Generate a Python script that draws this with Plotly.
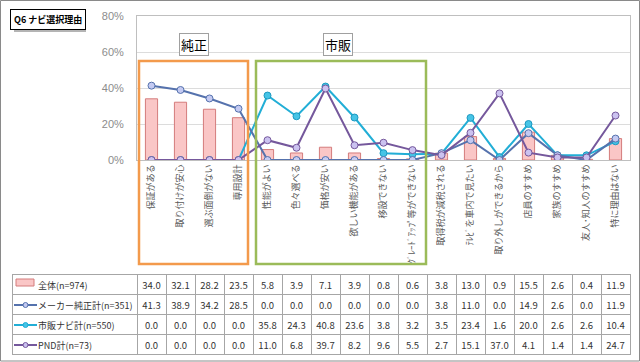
import plotly.graph_objects as go

categories = ["保証がある", "取り付けが安心", "選ぶ面倒がない", "専用設計", "性能がよい",
              "色々選べる", "価格が安い", "欲しい機能がある", "移設できない",
              "ｸﾞﾚｰﾄﾞｱｯﾌﾟ等ができない", "取得税が減税される", "ﾃﾚﾋﾞを車内で見たい",
              "取り外しができるから", "店員のすすめ", "家族のすすめ", "友人･知人のすすめ",
              "特に理由はない"]
series_names = ["全体(n=974)", "メーカー純正計(n=351)", "市販ナビ計(n=550)", "PND計(n=73)"]
total = [34.0, 32.1, 28.2, 23.5, 5.8, 3.9, 7.1, 3.9, 0.8, 0.6, 3.8, 13.0, 0.9, 15.5, 2.6, 0.4, 11.9]
maker = [41.3, 38.9, 34.2, 28.5, 0.0, 0.0, 0.0, 0.0, 0.0, 0.0, 3.8, 11.0, 0.0, 14.9, 2.6, 0.0, 11.9]
retail = [0.0, 0.0, 0.0, 0.0, 35.8, 24.3, 40.8, 23.6, 3.8, 3.2, 3.5, 23.4, 1.6, 20.0, 2.6, 2.6, 10.4]
pnd = [0.0, 0.0, 0.0, 0.0, 11.0, 6.8, 39.7, 8.2, 9.6, 5.5, 2.7, 15.1, 37.0, 4.1, 1.4, 1.4, 24.7]
y_ticks = [0, 20, 40, 60, 80]
y_tick_text = ["0%", "20%", "40%", "60%", "80%"]

W, H = 640, 362
def px(x): return x / W
def py(y): return (H - y) / H

JP = "Noto Sans CJK JP"
C_MAKER = "#5572ad"
C_RETAIL = "#22aed6"
C_PND = "#75589c"

fig = go.Figure()
fig.add_trace(go.Bar(x=categories, y=total, name=series_names[0], width=0.42,
                     marker=dict(color="#fac6c6", line=dict(color="#d47c7c", width=1))))
fig.add_trace(go.Scatter(x=categories, y=retail, name=series_names[2], mode="lines+markers",
                         line=dict(color=C_RETAIL, width=2),
                         marker=dict(size=7, color="#46c4e6", line=dict(color="#1c98c0", width=1))))
fig.add_trace(go.Scatter(x=categories, y=maker, name=series_names[1], mode="lines+markers",
                         line=dict(color=C_MAKER, width=2),
                         marker=dict(size=7, color="#c4caf2", line=dict(color=C_MAKER, width=1))))
fig.add_trace(go.Scatter(x=categories, y=pnd, name=series_names[3], mode="lines+markers",
                         line=dict(color=C_PND, width=2),
                         marker=dict(size=7, color="#cbc2f0", line=dict(color=C_PND, width=1))))

# data table
pad = "\u3000\u3000"
def fmt(v): return [f"{a:.1f}" for a in v]
header_vals = [pad + series_names[0]] + fmt(total)
cell_cols = [[pad + series_names[1], pad + series_names[2], pad + series_names[3]]]
for i in range(len(categories)):
    cell_cols.append([f"{maker[i]:.1f}", f"{retail[i]:.1f}", f"{pnd[i]:.1f}"])
aligns = ["left"] + ["center"] * len(categories)
TFONT = dict(family="Noto Sans CJK JP", size=[9] + [9.5] * len(categories), color="#333333")
fig.add_trace(go.Table(
    domain=dict(x=[px(12), px(630)], y=[py(355), py(274)]),
    columnwidth=[125] + [29] * len(categories),
    header=dict(values=header_vals, height=20, align=aligns,
                fill_color="white", line=dict(color="#a6a6a6", width=1), font=TFONT),
    cells=dict(values=cell_cols, height=20, align=aligns,
               fill_color="white", line=dict(color="#a6a6a6", width=1), font=TFONT),
))

shapes = []
# outer border
shapes.append(dict(type="rect", xref="paper", yref="paper", x0=px(0.5), x1=px(639.5),
                   y0=py(361), y1=py(0.5), line=dict(color="#8a8a8a", width=1), layer="below"))
# group boxes
shapes.append(dict(type="rect", xref="paper", yref="paper", x0=px(139), x1=px(248),
                   y0=py(264), y1=py(61), line=dict(color="#f39a4c", width=2.5)))
shapes.append(dict(type="rect", xref="paper", yref="paper", x0=px(256), x1=px(426),
                   y0=py(264), y1=py(61), line=dict(color="#9bbb59", width=2.5)))
# title shadow
shapes.append(dict(type="rect", xref="paper", yref="paper", x0=px(14), x1=px(86),
                   y0=py(32), y1=py(13), fillcolor="#b4b4b4", line=dict(width=0)))
# legend swatches in table
shapes.append(dict(type="rect", xref="paper", yref="paper", x0=px(16), x1=px(34),
                   y0=py(286), y1=py(279), fillcolor="#fac6c6", line=dict(color="#d47c7c", width=1)))
for yy, col, fc in [(305, C_MAKER, "#c4caf2"), (325, C_RETAIL, "#46c4e6"), (345, C_PND, "#cbc2f0")]:
    shapes.append(dict(type="line", xref="paper", yref="paper", x0=px(14), x1=px(37),
                       y0=py(yy), y1=py(yy), line=dict(color=col, width=2)))
    shapes.append(dict(type="circle", xref="paper", yref="paper", x0=px(23), x1=px(28),
                       y0=py(yy + 2.5), y1=py(yy - 2.5), fillcolor=fc, line=dict(color=col, width=1)))

annotations = [
    dict(text="<b>Q6 ナビ選択理由</b>", xref="paper", yref="paper", x=px(47.5), y=py(20),
         xanchor="center", yanchor="middle",
         showarrow=False, font=dict(family=JP, size=9, color="black"),
         bgcolor="white", bordercolor="black", borderwidth=1, borderpad=3),
    dict(text="純正", xref="paper", yref="paper", x=px(193.5), y=py(44.5),
         xanchor="center", yanchor="middle",
         showarrow=False, font=dict(family=JP, size=13, color="black"),
         bgcolor="white", bordercolor="#a0a0a0", borderwidth=1, borderpad=1),
    dict(text="市販", xref="paper", yref="paper", x=px(337.5), y=py(44.5),
         xanchor="center", yanchor="middle",
         showarrow=False, font=dict(family=JP, size=13, color="black"),
         bgcolor="white", bordercolor="#a0a0a0", borderwidth=1, borderpad=1),
]

fig.update_layout(
    width=W, height=H, margin=dict(l=0, r=0, t=0, b=0),
    paper_bgcolor="white", plot_bgcolor="white", showlegend=False,
    shapes=shapes, annotations=annotations, bargap=0.5,
    xaxis=dict(domain=[px(137), px(630)], type="category", tickangle=-90,
               tickfont=dict(family=JP, size=9, color="#595959"), automargin=False,
               showline=True, linecolor="#bfbfbf", mirror=True, ticks="",
               range=[-0.5, len(categories) - 0.5], showgrid=False),
    yaxis=dict(domain=[py(160), py(16)], range=[0, 80], tickvals=y_ticks, ticktext=y_tick_text,
               tickfont=dict(family="Liberation Sans", size=11, color="#8c8c8c"),
               showgrid=True, gridcolor="#dcdcdc", showline=True, linecolor="#bfbfbf",
               mirror=True, ticks="outside", ticklen=10, tickcolor="rgba(0,0,0,0)",
               automargin=False, zeroline=False),
)

fig.write_html("out.html")
